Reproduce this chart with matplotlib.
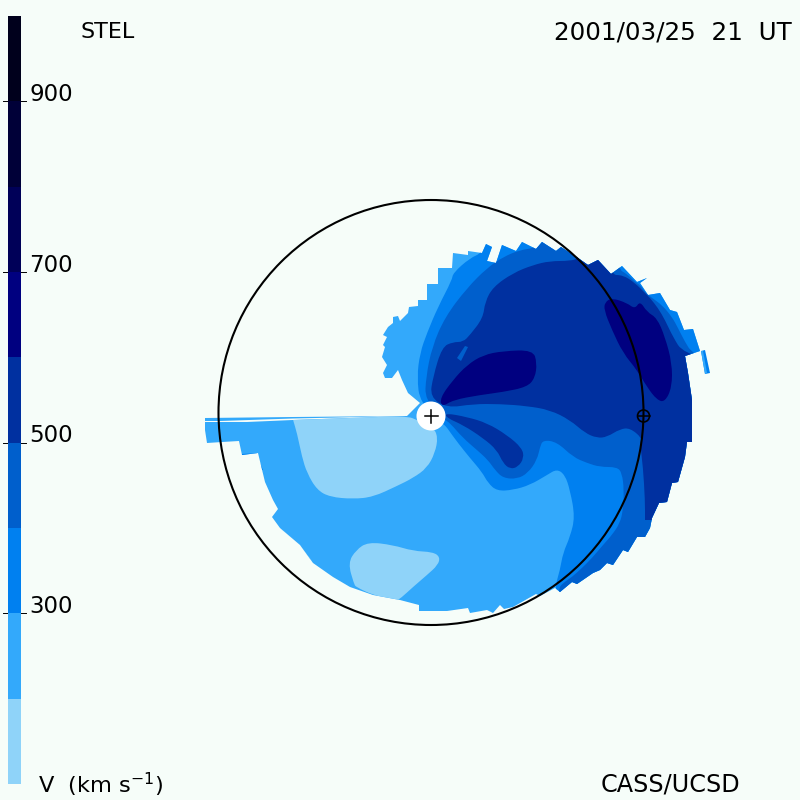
import matplotlib

matplotlib.use("Agg")
import matplotlib.pyplot as plt
import numpy as np
from matplotlib.patches import Circle, PathPatch, Polygon
from matplotlib.path import Path

BG = "#f6fdf9"
BAND_COLORS = ["#8fd3f9", "#33a9fb", "#0080f0", "#005fcc", "#0030a0", "#000080", "#000058", "#000038", "#00001c"]
BAND_EDGES = [100, 200, 300, 400, 500, 600, 700, 800, 900, 1000]
TICK_SPEEDS = [300, 500, 700, 900]

# contours, as (x, y) offsets in units of 1/212 AU, sun at origin
FOOTPRINT = [
    (-11, 13), (-23, 23), (-29, 36), (-33, 46), (-39, 38), (-46, 38), (-48, 43), (-44, 51), (-49, 59),
    (-46, 69), (-48, 71), (-44, 79), (-48, 81), (-43, 89), (-38, 93), (-38, 99), (-33, 100), (-31, 95),
    (-23, 103), (-22, 109), (-13, 110), (-13, 116), (-4, 116), (-4, 132), (7, 132), (7, 148), (21, 148),
    (22, 163), (37, 161), (37, 165), (51, 163), (55, 172), (61, 169), (56, 155), (65, 153), (71, 171),
    (85, 165), (91, 174), (105, 167), (111, 174), (125, 165), (130, 169), (147, 158), (157, 151),
    (167, 156), (180, 142), (191, 150), (206, 134), (216, 138), (209, 133), (217, 121), (229, 123),
    (239, 106), (246, 104), (253, 86), (262, 87), (269, 65), (254, 60), (257, 43), (261, 16), (261, -26),
    (256, -26), (254, -41), (247, -66), (241, -67), (236, -86), (228, -87), (221, -102), (219, -112),
    (214, -121), (206, -121), (197, -136), (192, -134), (182, -149), (176, -147), (169, -154), (162, -157),
    (146, -168), (141, -166), (129, -176), (124, -172), (109, -180), (105, -178), (82, -191), (73, -193),
    (69, -189), (62, -197), (56, -194), (39, -197), (37, -192), (16, -195), (-12, -195), (-12, -189),
    (-31, -184), (-58, -179), (-81, -171), (-98, -161), (-118, -147), (-131, -129), (-151, -112),
    (-159, -101), (-153, -93), (-158, -84), (-166, -66), (-173, -37), (-189, -39), (-192, -25), (-209, -26),
    (-224, -27), (-226, -14), (-226, -6), (-184, -6), (-138, -4), (-24, 0),
]
LEFT_STRIP = [(-226, -2), (-138, -1), (-24, 0), (-138, -2.5), (-211, -5), (-226, -5)]
OUTER_FRAGMENT = [(270, 65), (274, 66), (279, 43), (274, 42)]
OUTER_FRAGMENT_LOW = [(270, 65), (272, 65), (276, 43), (274, 42)]
CHIP_A = [(-189, -38), (-174, -37), (-174, -38.5), (-189, -40)]
CHIP_B = [(-171, -47), (-168, -54), (-169, -54)]

LOW_BLOB_A = [
    (-138, -4), (-134, -17), (-129, -41), (-124, -57), (-114, -74), (-101, -81), (-78, -83), (-58, -81),
    (-34, -70), (-18, -62), (-4, -52), (4, -37), (7, -21), (2, -11), (-14, -4), (-24, 0), (-98, 0), (-138, -2),
]
LOW_BLOB_B = [
    (-63, -126), (-38, -129), (-18, -135), (2, -136), (9, -141), (7, -149), (-4, -159), (-18, -171),
    (-30, -182), (-35, -185), (-58, -179), (-75, -171), (-77, -168), (-83, -147), (-75, -134),
]
LOW_SLIVER = [(-151, -112), (-131, -130), (-119, -145), (-127, -139), (-145, -120)]

BAND_300 = [
    (-11, 13), (-14, 39), (-11, 63), (-4, 83), (7, 109), (21, 136), (22, 143), (39, 158), (51, 163),
    (52, 176), (52, 190), (300, 190), (300, -220), (124, -220), (124, -171), (129, -154), (132, -137),
    (139, -121), (144, -101), (139, -74), (134, -59), (126, -53), (116, -59), (99, -69), (82, -74),
    (66, -75), (57, -67), (51, -56), (39, -42), (27, -27), (19, -16), (14, -9),
]
BAND_400 = [
    (-6, 16), (-5, 39), (1, 69), (14, 99), (36, 128), (56, 148), (72, 159), (89, 166), (104, 168),
    (107, 176), (107, 190), (186, 190), (186, 179), (187, 147), (196, 142), (204, 134), (209, 131),
    (214, 124), (221, 118), (231, 111), (241, 99), (247, 88), (254, 74), (261, 63), (300, 40),
    (300, -220), (127, -220), (127, -173), (132, -167), (141, -161), (151, -152), (161, -142),
    (172, -129), (181, -119), (189, -107), (192, -94), (193, -74), (191, -57), (186, -51), (169, -51),
    (156, -47), (142, -41), (126, -26), (112, -24), (109, -31), (106, -44), (97, -57), (86, -63),
    (72, -62), (64, -54), (57, -44), (46, -34), (32, -22), (19, -7), (14, -4),
]
BAND_500 = [
    (-1, 19), (2, 39), (11, 69), (22, 74), (32, 74), (39, 81), (52, 98), (54, 114), (62, 129), (82, 143),
    (102, 151), (119, 155), (139, 155), (149, 158), (149, 190), (175, 190), (179, 141), (192, 141),
    (204, 133), (214, 123), (219, 118), (227, 108), (234, 96), (242, 79), (252, 63), (300, 50),
    (300, -104), (214, -104), (214, -104), (214, -84), (212, -51), (209, -27), (211, -22), (199, -12), (189, -13),
    (176, -21), (166, -22), (154, -17), (139, -4), (119, 6), (96, 10), (69, 12), (42, 12), (16, 8),
]
NOTCH_400 = [(26, 58), (34, 70), (37, 69), (30, 55)]
HIGH_BLOB_A = [
    (9, 18), (22, 36), (36, 51), (52, 61), (72, 65), (102, 66), (106, 53), (104, 38), (96, 29), (72, 24),
    (49, 21), (22, 16), (11, 9),
]
HIGH_BLOB_B = [
    (181, 118), (196, 113), (204, 107), (209, 115), (216, 104), (226, 98), (234, 79), (241, 53), (241, 29),
    (234, 14), (226, 16), (216, 29), (206, 46), (192, 63), (181, 86), (173, 106), (174, 114),
]
HIGH_FINGER = [
    (14, 3), (36, -1), (56, -7), (76, -19), (91, -32), (93, -42), (87, -51), (79, -53), (72, -47),
    (66, -34), (52, -22), (32, -9), (16, -2),
]


def smooth_contour(points):
    # quadratic pieces between edge midpoints, the read points act as control points
    pts = np.asarray(points, dtype=float)
    mids = (pts + np.roll(pts, -1, axis=0)) / 2
    verts = [mids[-1]]
    codes = [Path.MOVETO]
    for ctrl, mid in zip(pts, mids):
        verts += [ctrl, mid]
        codes += [Path.CURVE3, Path.CURVE3]
    return Path(verts, codes)


plt.rcParams["font.family"] = ["DejaVu Sans"]
plt.rcParams["mathtext.default"] = "regular"

fig = plt.figure(figsize=(8, 8), dpi=100, facecolor=BG)
ax = fig.add_axes([0, 0, 1, 1], facecolor=BG)
ax.set_xlim(-431, 369)
ax.set_ylim(-384, 416)
ax.axis("off")

footprint = Polygon(FOOTPRINT, closed=True, facecolor=BAND_COLORS[1], edgecolor="none", zorder=1)
ax.add_patch(footprint)
ax.add_patch(Polygon(LEFT_STRIP, closed=True, facecolor=BAND_COLORS[1], edgecolor="none", zorder=1))
ax.add_patch(Polygon(OUTER_FRAGMENT, closed=True, facecolor=BAND_COLORS[2], edgecolor="none", zorder=1))
ax.add_patch(Polygon(OUTER_FRAGMENT_LOW, closed=True, facecolor=BAND_COLORS[1], edgecolor="none", zorder=1.5))

layers = [
    (LOW_BLOB_A, 0, True), (LOW_BLOB_B, 0, True), (LOW_SLIVER, 0, False), (CHIP_A, 2, False), (CHIP_B, 2, False),
    (BAND_300, 2, True), (BAND_400, 3, True), (BAND_500, 4, True), (NOTCH_400, 3, False),
    (HIGH_BLOB_A, 5, True), (HIGH_BLOB_B, 5, True), (HIGH_FINGER, 4, True),
]
for i, (contour, band, smooth) in enumerate(layers):
    path = smooth_contour(contour) if smooth else Path(contour + contour[:1], closed=True)
    patch = PathPatch(path, facecolor=BAND_COLORS[band], edgecolor="none", zorder=2 + i * 0.01)
    ax.add_patch(patch)
    patch.set_clip_path(footprint)

# earth orbit and markers
ax.add_patch(Circle((0, 3.5), 212.5, fill=False, edgecolor="black", lw=1.5, zorder=5))
ax.add_patch(Circle((0, 0), 14.5, facecolor="white", edgecolor="none", zorder=6))
ax.plot([-6.5, 6.5], [0, 0], color="black", lw=1.1, zorder=7)
ax.plot([0, 0], [-6.5, 6.5], color="black", lw=1.1, zorder=7)
ax.add_patch(Circle((212.5, 0), 6, fill=False, edgecolor="black", lw=1.2, zorder=7))
ax.plot([206.5, 218.5], [0, 0], color="black", lw=1.1, zorder=7)

# colour bar, positioned in figure pixels
bar = fig.add_axes([8 / 800, 16 / 800, 13 / 800, 768 / 800], facecolor=BG)
bar.set_xlim(0, 1)
bar.set_ylim(100, 1000)
bar.axis("off")
for low, high, color in zip(BAND_EDGES[:-1], BAND_EDGES[1:], BAND_COLORS):
    bar.fill_between([0, 1], low, high, color=color, lw=0, zorder=2)
for speed in TICK_SPEEDS:
    bar.plot([-0.38, 1.38], [speed, speed], color="black", lw=0.7, clip_on=False, zorder=1)
    bar.text(1.62, speed + 8, str(speed), fontsize=16.5, color="black", ha="left", va="center", clip_on=False)

fig.text(80 / 800, 1 - 32 / 800, "STEL", fontsize=16, ha="left", va="center")
fig.text(792 / 800, 1 - 32 / 800, "2001/03/25  21  UT", fontsize=17.7, ha="right", va="center")
fig.text(740 / 800, 1 - 785 / 800, "CASS/UCSD", fontsize=17.2, ha="right", va="center")
fig.text(38 / 800, 1 - 785 / 800, "V  (km s$^{-1}$)", fontsize=16.2, ha="left", va="center")

fig.savefig("out.png", dpi=100, facecolor=BG)
plt.close(fig)
